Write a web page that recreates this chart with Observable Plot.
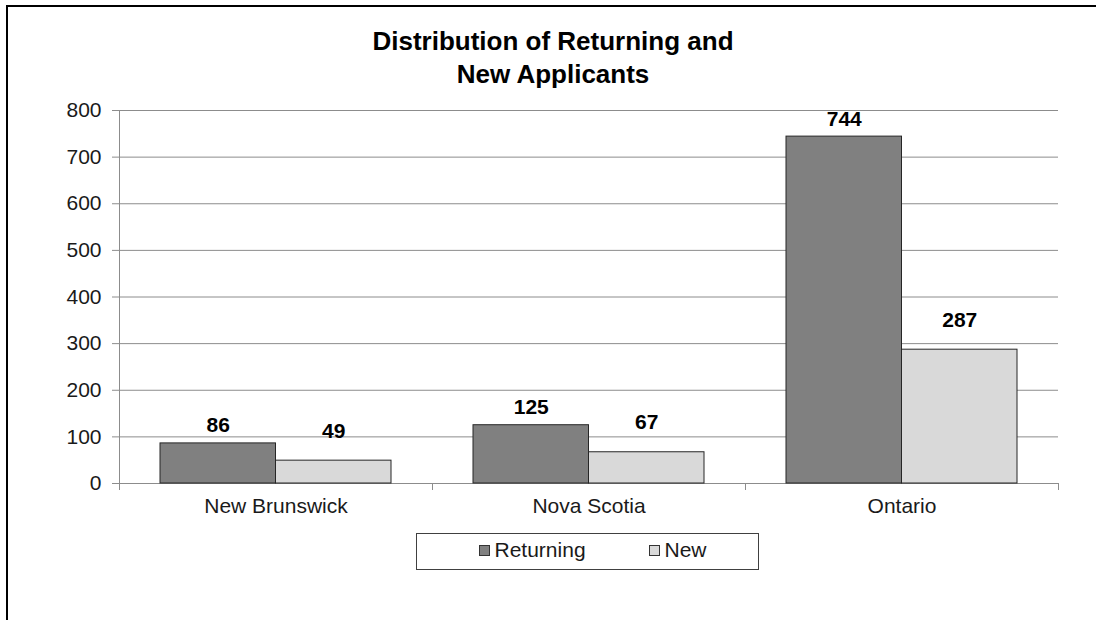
<!DOCTYPE html>
<html><head><meta charset="utf-8">
<script src="https://cdn.jsdelivr.net/npm/d3@7"></script>
<script src="https://cdn.jsdelivr.net/npm/@observablehq/plot@0.6"></script>
<style>
html,body{margin:0;padding:0;background:#fff;width:1096px;height:620px;overflow:hidden;font-family:"Liberation Sans",Arial,sans-serif;}
#frame{position:absolute;left:6px;top:5px;width:1090px;height:615px;border-top:2px solid #000;border-left:2px solid #000;box-sizing:border-box;}
#chart{position:absolute;left:0;top:0;}
#title{position:absolute;left:0;width:1106px;top:25px;text-align:center;font-weight:bold;font-size:26px;line-height:32.6px;color:#000;}
#legend{position:absolute;left:416px;top:533px;width:343px;height:37px;box-sizing:border-box;border:1.5px solid #404040;background:#fff;display:flex;align-items:center;font-size:21px;color:#1a1a1a;}
#legend .item{display:flex;align-items:center;position:absolute;top:4px;}
#legend .sw{width:11px;height:11px;box-sizing:border-box;border:1px solid #333;margin-right:5px;}
</style>
</head><body>
<div id="frame"></div>
<div id="chart"></div>
<div id="title">Distribution of Returning and<br>New Applicants</div>
<div id="legend"></div>
<script>
const categories = ["New Brunswick", "Nova Scotia", "Ontario"];
const returningValues = [86, 125, 744];
const newValues = [49, 67, 287];
const seriesNames = ["Returning", "New"];
const seriesColors = ["#808080", "#d9d9d9"];
const yTicks = [0, 100, 200, 300, 400, 500, 600, 700, 800];

const rows = categories.flatMap((c, i) => [
  {category: c, series: seriesNames[0], value: returningValues[i]},
  {category: c, series: seriesNames[1], value: newValues[i]}
]);
const retRows = rows.filter(d => d.series === seriesNames[0]);
const newRows = rows.filter(d => d.series === seriesNames[1]);

const lineColor = "#8c8c8c";
const half = 156.5;

const chart = Plot.plot({
  width: 1096,
  height: 620,
  marginTop: 110,
  marginBottom: 137,
  marginLeft: 119,
  marginRight: 38,
  style: {background: "transparent", fontFamily: "'Liberation Sans', Arial, sans-serif", fontSize: "21px", color: "#1a1a1a", overflow: "visible"},
  x: {domain: categories, padding: 0},
  y: {domain: [0, 800]},
  marks: [
    Plot.gridY(yTicks, {stroke: lineColor, strokeOpacity: 1}),
    Plot.axisY(yTicks, {tickSize: 7, tickPadding: 11, stroke: lineColor, fill: "#1a1a1a", label: null, tickFormat: d => String(d)}),
    Plot.ruleX([categories[0]], {x: d => d, dx: -half, insetBottom: -7, stroke: lineColor}),
    Plot.ruleY([0], {stroke: lineColor}),
    Plot.ruleX(categories, {x: d => d, y1: 0, y2: 0, insetBottom: -7, dx: -half, stroke: lineColor}),
    Plot.ruleX([categories[categories.length - 1]], {x: d => d, y1: 0, y2: 0, insetBottom: -7, dx: half, stroke: lineColor}),
    Plot.barY(retRows, {x: "category", y: "value", fill: seriesColors[0], stroke: "#262626", strokeWidth: 1, insetLeft: 41, insetRight: half}),
    Plot.barY(newRows, {x: "category", y: "value", fill: seriesColors[1], stroke: "#262626", strokeWidth: 1, insetLeft: half, insetRight: 41}),
    Plot.text(retRows, {x: "category", y: "value", text: d => String(d.value), dx: -57.75, dy: -11, lineAnchor: "bottom", fontWeight: "bold", fontSize: 21, fill: "#000"}),
    Plot.text(newRows, {x: "category", y: "value", text: d => String(d.value), dx: 57.75, dy: -23, lineAnchor: "bottom", fontWeight: "bold", fontSize: 21, fill: "#000"}),
    Plot.axisX(categories, {tickSize: 0, tickPadding: 15, label: null, fill: "#1a1a1a"})
  ]
});
document.getElementById("chart").appendChild(chart);

const legend = document.getElementById("legend");
const legendLefts = [61.5, 231.5];
seriesNames.forEach((name, i) => {
  const item = document.createElement("div");
  item.className = "item";
  item.style.left = legendLefts[i] + "px";
  const sw = document.createElement("span");
  sw.className = "sw";
  sw.style.background = seriesColors[i];
  const t = document.createElement("span");
  t.textContent = name;
  item.appendChild(sw);
  item.appendChild(t);
  legend.appendChild(item);
});
</script>
</body></html>
